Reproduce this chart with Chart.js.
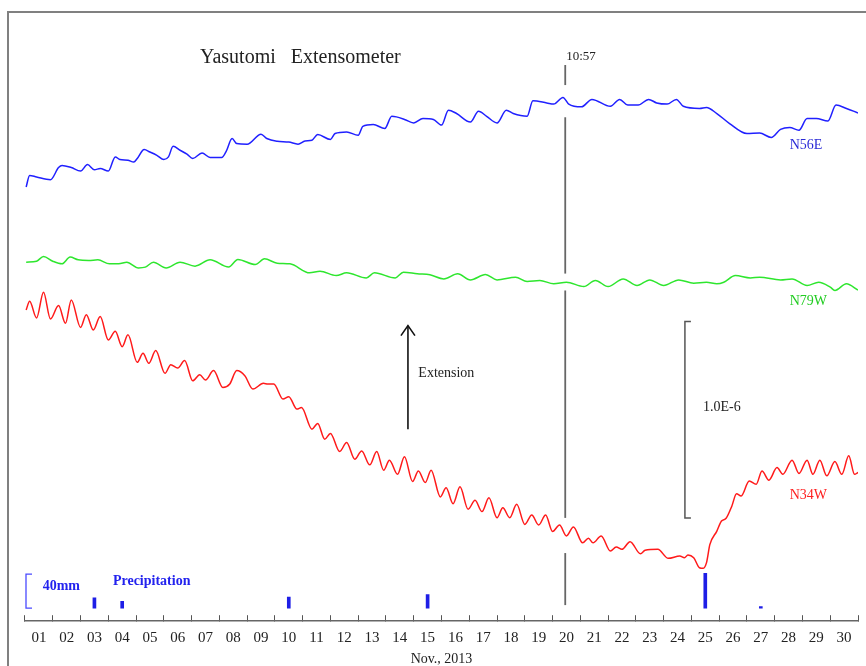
<!DOCTYPE html>
<html>
<head>
<meta charset="utf-8">
<script src="https://cdn.jsdelivr.net/npm/chart.js@4.4.1/dist/chart.umd.min.js"></script>
<style>
  body { margin: 0; background: #fff; }
  canvas { display: block; }
</style>
</head>
<body>
<canvas id="chart" width="866" height="666"></canvas>
<script>
// Yasutomi extensometer, November 2013
// time in hours from Nov 1 00:00, strain in units of 1e-8 (traces offset for display)
var dayLabels = ['01','02','03','04','05','06','07','08','09','10','11','12','13','14','15',
                 '16','17','18','19','20','21','22','23','24','25','26','27','28','29','30'];

var n56eHours = [1,4,10,22,29,32,40,48,54,60,65,72,78,82,89,94,97,103,108,114,
  120,124,128,134,140,145,153,160,170,174,179,183,192,204,209,218,228,236,242,248,
  253,264,268,278,288,292,301,311,317,321,328,336,344,353,360,366,373,385,392,399,
  408,416,422,434,439,451,457,465,470,481,490,506,514,521,530,539,546,555,563,569,
  583,589,598,609,624,635,645,653,661,669,676,684,694,701,710,720];
var n56eStrain = [221.1,227.0,226.2,224.8,231.0,232.1,231.0,229.2,232.5,229.9,
  230.5,229.2,236.4,235.1,234.7,233.8,235.6,240.2,238.9,237.2,
  235.1,236.4,241.8,239.8,237.8,235.6,238.4,236.1,236.1,239.4,
  245.8,243.2,242.9,248.0,245.8,244.4,244.0,242.9,244.5,244.9,
  247.8,245.3,248.3,249.1,247.4,252.0,252.9,250.9,257.1,256.8,
  255.5,253.7,256.0,255.5,252.6,260.2,258.5,254.2,259.7,257.1,
  253.7,260.2,258.5,257.1,265.0,263.9,263.3,266.7,263.3,261.9,
  265.7,262.2,265.7,262.8,262.8,265.7,263.9,263.3,265.7,262.2,
  261.1,261.6,258.5,253.4,248.3,248.6,246.3,250.4,251.4,250.0,
  256.0,256.0,254.7,262.8,261.1,258.8];

var n79wHours = [1,10,16,24,32,39,46,55,63,73,81,88,98,104,111,122,134,147,160,176,
  184,199,207,218,229,246,255,269,278,295,302,320,327,339,350,362,374,385,398,408,
  424,434,445,457,468,483,493,504,517,529,540,552,565,578,589,598,604,614,627,635,
  653,663,676,686,696,700,710,720];
var n79wStrain = [182.8,183.3,185.7,183.3,182.0,185.4,184.0,183.7,184.0,182.0,
  182.0,182.8,179.9,180.3,182.8,179.9,182.8,180.8,184.0,180.3,
  184.2,181.6,184.5,182.3,182.0,177.4,178.2,176.0,177.4,174.8,
  177.4,174.8,177.7,176.9,176.4,174.3,176.9,173.8,176.5,173.8,
  175.2,173.0,173.5,171.8,172.6,170.4,173.5,170.4,174.3,170.9,
  173.8,170.9,173.8,172.1,172.6,171.8,172.6,176.0,174.8,175.2,
  173.8,174.3,170.9,172.6,170.1,168.4,171.8,168.6];

var n34wHours = [1,4,10,16,22,29,35,40,48,53,59,65,72,78,84,89,97,102,107,113,
  121,126,132,138,145,151,156,163,171,177,183,190,197,206,210,215,223,228,235,239,
  248,253,259,264,272,278,285,291,298,304,310,315,322,328,335,340,346,351,359,364,
  370,376,383,389,395,401,408,413,419,425,432,438,444,450,456,462,468,474,482,487,
  491,498,506,511,516,523,532,536,547,556,566,570,573,578,583,586,589,592,598,602,
  606,611,615,619,626,632,637,643,650,655,663,669,676,681,687,693,700,706,712,717,720];
var n34wStrain = [158.5,162.9,154.4,167.5,153.9,160.7,151.7,163.6,149.6,156.1,
  148.3,155.1,143.2,147.6,139.8,145.8,131.8,136.4,131.3,137.8,
  126.2,130.6,128.9,132.7,122.4,125.5,122.8,127.6,119.0,120.8,
  127.6,125.0,118.2,121.1,120.8,120.8,113.1,114.3,108.0,108.8,
  97.8,100.7,92.7,95.6,86.4,91.0,82.5,86.7,79.6,86.4,
  76.9,82.0,74.8,83.7,71.1,76.5,70.6,76.9,63.3,68.0,
  59.8,68.4,57.0,61.6,55.8,62.9,52.7,57.8,52.7,59.5,
  49.3,54.1,49.0,54.1,45.7,49.0,43.4,48.0,39.9,42.2,
  39.9,43.4,35.7,37.8,36.6,40.5,34.3,36.1,36.6,32.0,
  33.2,32.3,33.7,32.3,27.2,26.9,29.7,39.1,45.9,51.0,
  52.4,58.7,64.9,63.8,71.4,69.7,76.5,71.8,78.2,74.8,
  82.0,75.2,82.0,74.8,82.0,74.0,81.3,74.8,84.2,74.8,75.7];

// daily precipitation (mm)
var rainDays = [3, 4, 10, 15, 25, 27];
var rainMm = [12, 8, 13, 16, 41, 2];

var strainUnit = 1e-8;
var scaleBar = 1.0E-6;
var eventDay = 20, eventTime = '10:57';

var serif = "'Liberation Serif', 'Times New Roman', serif";

function xy(hours, values) {
  return hours.map(function (h, i) { return { x: h, y: values[i] }; });
}

function stroke(ctx, pts, color, width) {
  ctx.beginPath();
  ctx.moveTo(pts[0][0], pts[0][1]);
  for (var i = 1; i < pts.length; i++) ctx.lineTo(pts[i][0], pts[i][1]);
  ctx.strokeStyle = color;
  ctx.lineWidth = width;
  ctx.stroke();
}

function label(ctx, s, px, py, color, size, weight) {
  ctx.font = (weight || 'normal') + ' ' + size + 'px ' + serif;
  ctx.fillStyle = color;
  ctx.textAlign = 'left';
  ctx.textBaseline = 'middle';
  ctx.fillText(s, px, py);
}

var notes = {
  id: 'notes',
  afterDraw: function (chart) {
    var ctx = chart.ctx, a = chart.chartArea;
    var sx = chart.scales.x, sy = chart.scales.y, sr = chart.scales.yRain;
    var X = function (h) { return sx.getPixelForValue(h); };
    var Y = function (v) { return sy.getPixelForValue(v); };
    ctx.save();
    ctx.lineCap = 'butt';

    // frame
    stroke(ctx, [[a.left - 17, chart.height], [a.left - 17, a.top], [chart.width, a.top]], '#808080', 2);

    label(ctx, 'Yasutomi   Extensometer', 200, 58, '#222', 20);

    // event line, broken where it crosses the traces
    var eh = (eventDay - 1) * 24 + 10 + 57 / 60;
    [[283.2, 273], [256.6, 177], [168.4, 52.6], [34.7, 8.2]].forEach(function (s) {
      stroke(ctx, [[X(eh), Y(s[0])], [X(eh), Y(s[1])]], '#666', 1.8);
    });
    label(ctx, eventTime, X(eh) + 1, Y(287.5), '#222', 13);

    // extension arrow
    var ax = X(331), tip = Y(150.5);
    stroke(ctx, [[ax, Y(97.8)], [ax, tip]], '#111', 1.6);
    stroke(ctx, [[ax - 7, tip + 10], [ax, tip], [ax + 7, tip + 10]], '#111', 1.6);
    label(ctx, 'Extension', X(340), Y(126), '#222', 14);

    // strain scale bar
    var bx = X(570.4), b0 = Y(52.6), b1 = Y(52.6 + scaleBar / strainUnit);
    stroke(ctx, [[bx + 6, b1], [bx, b1], [bx, b0], [bx + 6, b0]], '#555', 1.5);
    label(ctx, '1.0E-6', X(586), Y(108.7), '#222', 14);

    // trace names
    label(ctx, 'N56E', X(661), Y(242.3), '#2a2ad6', 14);
    label(ctx, 'N79W', X(661), Y(162.8), '#22cc22', 14);
    label(ctx, 'N34W', X(661), Y(64.3), '#ff2020', 14);

    // precipitation key
    var rx = a.left + 1, r0 = sr.getPixelForValue(0), r40 = sr.getPixelForValue(40);
    stroke(ctx, [[rx + 6, r40], [rx, r40], [rx, r0], [rx + 6, r0]], '#4a4aff', 1.3);
    label(ctx, '40mm', X(15.3), sr.getPixelForValue(25.9), '#2222ee', 14, 'bold');
    label(ctx, 'Precipitation', X(76), sr.getPixelForValue(31.2), '#2222ee', 14, 'bold');

    ctx.restore();
  }
};

var c = document.getElementById('chart');
var chart = new Chart(c, {
  type: 'line',
  data: {
    datasets: [
      { label: 'N56E', data: xy(n56eHours, n56eStrain), borderColor: '#2020ff' },
      { label: 'N79W', data: xy(n79wHours, n79wStrain), borderColor: '#2ee62e' },
      { label: 'N34W', data: xy(n34wHours, n34wStrain), borderColor: '#ff1a1a' },
      {
        type: 'bar', label: 'Precipitation', yAxisID: 'yRain',
        data: xy(rainDays.map(function (d) { return (d - 1) * 24 + 12; }), rainMm),
        backgroundColor: '#1e1ee6', borderWidth: 0, barThickness: 3
      }
    ]
  },
  options: {
    responsive: false,
    animation: false,
    layout: { padding: { left: 25, right: 8, top: 12, bottom: 0 } },
    elements: {
      point: { radius: 0 },
      line: { borderWidth: 1.5, cubicInterpolationMode: 'monotone' }
    },
    plugins: { legend: { display: false }, tooltip: { enabled: false } },
    scales: {
      x: {
        type: 'linear', min: 0, max: 720, offset: false,
        afterBuildTicks: function (axis) {
          axis.ticks = dayLabels.map(function (l, i) { return { value: i * 24 + 12 }; });
        },
        grid: { drawOnChartArea: false, drawTicks: true, tickLength: -6, offset: true, color: '#555', lineWidth: 1 },
        border: { display: true, color: '#666', width: 1.5 },
        ticks: {
          autoSkip: false, maxRotation: 0, padding: 14, color: '#222',
          font: { family: serif, size: 15 },
          callback: function (v, i) { return dayLabels[i]; }
        },
        title: { display: true, text: 'Nov., 2013', color: '#222', font: { family: serif, size: 14 }, padding: { top: -10, bottom: -2 } }
      },
      y: { display: false, min: 0, max: 310.2 },
      yRain: { display: false, min: -15.3, max: 700 }
    }
  },
  plugins: [notes]
});
</script>
</body>
</html>
